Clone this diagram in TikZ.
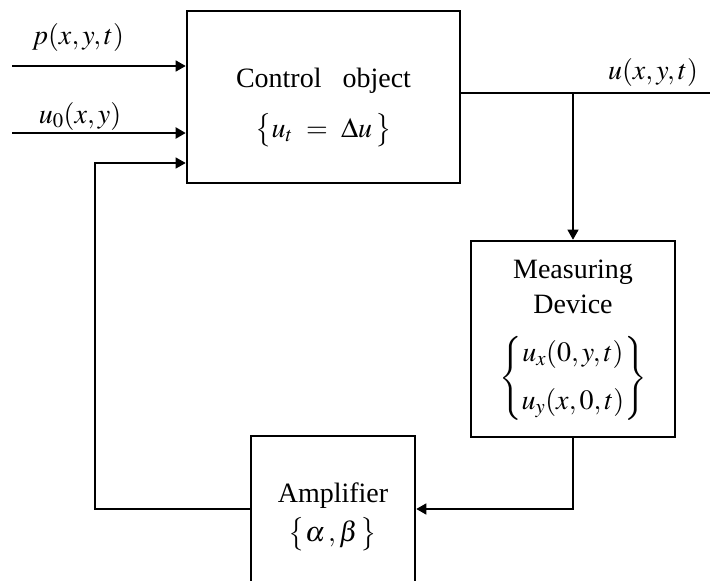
\documentclass[tikz,border=0pt]{standalone}
\usepackage{mathptmx}
\usepackage{fontspec}
\setmainfont{Liberation Serif}
\usetikzlibrary{arrows.meta}
\begin{document}
\begin{tikzpicture}[x=1pt,y=-1pt,
  blk/.style={draw,line width=2.6pt,inner sep=0pt},
  con/.style={line width=1.5pt},
  arr/.style={con,-{Triangle[length=10pt,width=11pt]}},
  lbl/.style={font=\fontsize{28}{35}\selectfont,inner sep=0pt,align=center},
  bl/.style={lbl,anchor=base}]
\useasboundingbox (0,0) rectangle (710,581);
\clip (0,0) rectangle (710,581);
% blocks
\node[blk,minimum width=273pt,minimum height=172pt] (ctrl) at (323.5,97) {};
\node[bl] (ctrlA) at (323.5,87) {Control\ \ \ object};
\node[lbl] (ctrlB) at (323.5,130) {$\bigl\{u_t\ =\ \Delta u\,\bigr\}$};
\node[blk,minimum width=204pt,minimum height=196pt] (meas) at (573,339) {};
\node[bl] (measA) at (573,278) {Measuring};
\node[bl] (measB) at (573,313) {Device};
\node[lbl] (measC) at (573,378) {$\left\{\begin{array}{@{}c@{}} u_x(0,y,t)\\[13pt] u_y(x,0,t)\end{array}\right\}$};
\node[blk,minimum width=164pt,minimum height=146pt] (amp) at (333,509) {};
\node[bl] (ampA) at (333,502) {Amplifier};
\node[lbl] (ampB) at (333,534) {$\bigl\{\alpha\,,\beta\,\bigr\}$};
% labels
\node[lbl] (lp) at (78,37) {$p(x,y,t)$};
\node[lbl] (lu0) at (80,116) {$u_0(x,y)$};
\node[lbl] (lu) at (653,72) {$u(x,y,t)$};
% connectors
\coordinate (inp) at (12,66);
\coordinate (inu) at (12,133);
\coordinate (fbk) at (95,163);
\coordinate (uout) at (710,93);
\draw[arr] (inp) -- (inp -| ctrl.west);
\draw[arr,line width=2pt] (inu) -- (inu -| ctrl.west);
\draw[arr,line width=1.2pt] (amp.west) -| (fbk) -- (fbk -| ctrl.west);
\draw[con] (uout -| ctrl.east) -- (uout);
\draw[arr,line width=1.2pt] (meas.north |- uout) -- (meas.north);
\draw[arr] (meas.south) |- (amp.east);
\end{tikzpicture}
\end{document}
